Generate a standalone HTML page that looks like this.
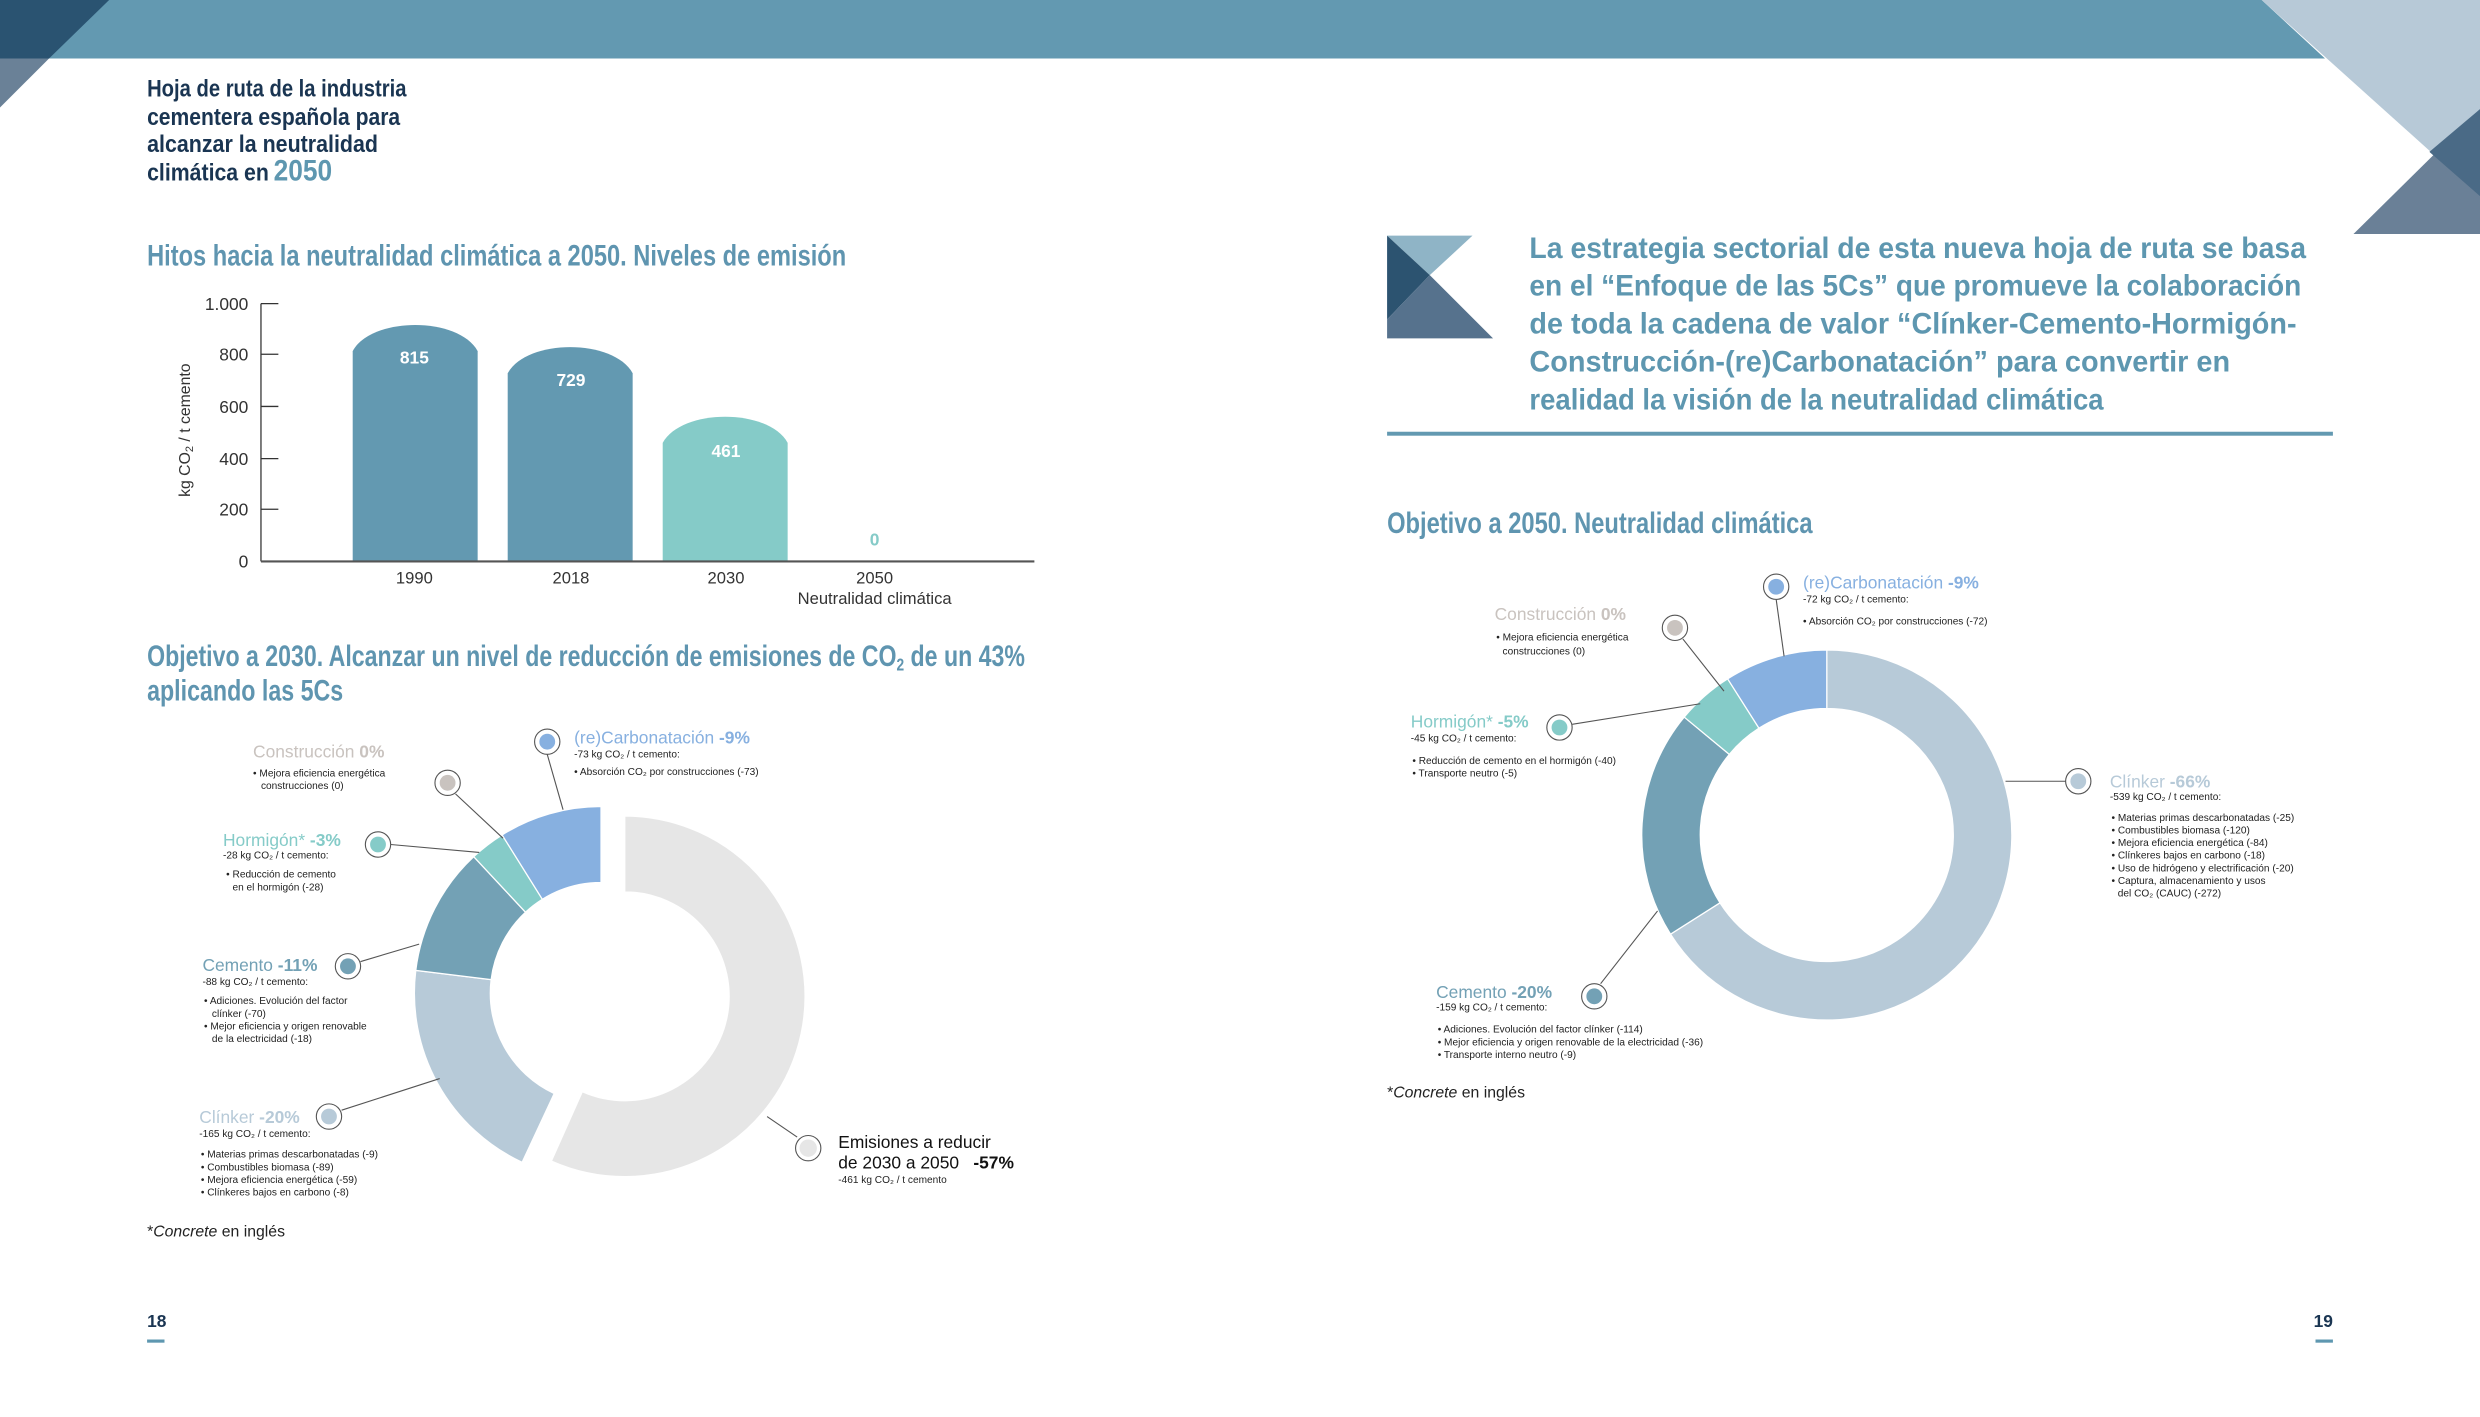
<!DOCTYPE html>
<html><head><meta charset="utf-8">
<style>
html,body{margin:0;padding:0;background:#fff;}
svg{display:block;}
.h{font-family:"Liberation Sans Narrow","Liberation Sans",sans-serif;font-weight:bold;}
.t{font-family:"Liberation Sans Narrow","Liberation Sans",sans-serif;}
.s{font-family:"Liberation Sans Narrow","Liberation Sans",sans-serif;font-size:6.4px;fill:#222;}
</style></head>
<body>
<svg width="2480" height="1417" viewBox="0 0 1568 896" preserveAspectRatio="none" xmlns="http://www.w3.org/2000/svg">
<rect width="1568" height="896" fill="#fff"/>
<!-- top band -->
<polygon points="0,0 1430,0 1470,37 0,37" fill="#6399b1"/>
<polygon points="0,0 69,0 31,37 0,37" fill="#2a5371"/>
<polygon points="0,37 31,37 0,68" fill="#6a8197"/>
<polygon points="1430,0 1568,0 1568,124" fill="#b7c9d7"/>
<polygon points="1488,148 1568,69 1568,148" fill="#6a8097"/>
<polygon points="1568,69 1568,124 1536,96" fill="#4a6a86"/>

<!-- left title -->
<g class="h" fill="#1a3552" font-size="15">
<text x="93" y="61" textLength="164" lengthAdjust="spacingAndGlyphs">Hoja de ruta de la industria</text>
<text x="93" y="79" textLength="160" lengthAdjust="spacingAndGlyphs">cementera española para</text>
<text x="93" y="96" textLength="146" lengthAdjust="spacingAndGlyphs">alcanzar la neutralidad</text>
<text x="93" y="114" textLength="77" lengthAdjust="spacingAndGlyphs">climática en</text>
<text x="173" y="114" font-size="19" fill="#5e97b0" textLength="37" lengthAdjust="spacingAndGlyphs">2050</text>
</g>

<text class="h" x="93" y="168" font-size="18.5" fill="#5f95b0" textLength="442" lengthAdjust="spacingAndGlyphs">Hitos hacia la neutralidad climática a 2050. Niveles de emisión</text>

<!-- bar chart -->
<g class="t" font-size="11" fill="#333" text-anchor="end">
<text x="157" y="196">1.000</text><text x="157" y="228">800</text><text x="157" y="261">600</text>
<text x="157" y="294">400</text><text x="157" y="326">200</text><text x="157" y="359">0</text>
</g>
<g stroke="#333" stroke-width="0.8">
<line x1="165" y1="192" x2="165" y2="355"/>
<line x1="165" y1="192" x2="176" y2="192"/><line x1="165" y1="224" x2="176" y2="224"/>
<line x1="165" y1="257" x2="176" y2="257"/><line x1="165" y1="290" x2="176" y2="290"/>
<line x1="165" y1="322" x2="176" y2="322"/>
</g>
<path d="M223,355 V222 C235,200 290,200 302,222 V355Z" fill="#6399b1"/>
<path d="M321,355 V236 C333,214 388,214 400,236 V355Z" fill="#6399b1"/>
<path d="M419,355 V280 C431,258 486,258 498,280 V355Z" fill="#85cbc8"/>
<line x1="165" y1="355" x2="654" y2="355" stroke="#555" stroke-width="1.4"/>
<g class="h" font-size="11" fill="#fff" text-anchor="middle">
<text x="262" y="230">815</text><text x="361" y="244">729</text><text x="459" y="289">461</text>
</g>
<text class="h" x="553" y="345" font-size="11" fill="#85cbc8" text-anchor="middle">0</text>
<g class="t" font-size="10.5" fill="#333" text-anchor="middle">
<text x="262" y="369">1990</text><text x="361" y="369">2018</text><text x="459" y="369">2030</text><text x="553" y="369">2050</text>
<text x="553" y="382">Neutralidad climática</text>
</g>
<text x="120" y="272" transform="rotate(-90 120 272)" font-family="Liberation Sans, sans-serif" font-size="10" fill="#333" text-anchor="middle">kg CO<tspan font-size="7" dy="2">2</tspan><tspan dy="-2"> / t cemento</tspan></text>

<!-- heading 2 -->
<g class="h" font-size="18.5" fill="#5f95b0">
<text x="93" y="421" textLength="555" lengthAdjust="spacingAndGlyphs">Objetivo a 2030. Alcanzar un nivel de reducción de emisiones de CO<tspan font-size="11" dy="3">2</tspan><tspan dy="-3"> de un 43%</tspan></text>
<text x="93" y="443" textLength="124" lengthAdjust="spacingAndGlyphs">aplicando las 5Cs</text>
</g>

<!-- donut 1 -->
<g id="d1"></g>
<!-- donut 2 -->
<g id="d2"></g>

<!-- leader lines -->
<g stroke="#555" stroke-width="0.7" fill="none">
<line x1="346" y1="477" x2="356" y2="512"/>
<line x1="288" y1="502" x2="318" y2="530"/>
<line x1="247" y1="534" x2="303" y2="539"/>
<line x1="228" y1="608" x2="265" y2="597"/>
<line x1="216" y1="702" x2="278" y2="682"/>
<line x1="504" y1="719" x2="485" y2="706"/>
<line x1="1123" y1="379" x2="1128" y2="415"/>
<line x1="1064" y1="404" x2="1090" y2="437"/>
<line x1="994" y1="458" x2="1075" y2="445"/>
<line x1="1306" y1="494" x2="1268" y2="494"/>
<line x1="1012" y1="622" x2="1048" y2="576"/>
</g>
<!-- markers -->
<g stroke="#555" stroke-width="0.7" fill="#fff">
<circle cx="346" cy="469" r="8"/><circle cx="283" cy="495" r="8"/><circle cx="239" cy="534" r="8"/>
<circle cx="220" cy="611" r="8"/><circle cx="208" cy="706" r="8"/><circle cx="511" cy="726" r="8"/>
<circle cx="1123" cy="371" r="8"/><circle cx="1059" cy="397" r="8"/><circle cx="986" cy="460" r="8"/>
<circle cx="1314" cy="494" r="8"/><circle cx="1008" cy="630" r="8"/>
</g>
<g>
<circle cx="346" cy="469" r="5" fill="#87b0e0"/><circle cx="283" cy="495" r="5" fill="#c9c3bf"/>
<circle cx="239" cy="534" r="5" fill="#85cbc8"/><circle cx="220" cy="611" r="5" fill="#73a1b5"/>
<circle cx="208" cy="706" r="5" fill="#b7cad8"/><circle cx="511" cy="726" r="5.5" fill="#e6e6e6"/>
<circle cx="1123" cy="371" r="5" fill="#87b0e0"/><circle cx="1059" cy="397" r="5" fill="#c9c3bf"/>
<circle cx="986" cy="460" r="5" fill="#85cbc8"/><circle cx="1314" cy="494" r="5" fill="#b7cad8"/>
<circle cx="1008" cy="630" r="5" fill="#73a1b5"/>
</g>

<!-- labels donut 1 -->
<g class="t" font-size="11">
<text x="363" y="470" fill="#87b0e0">(re)Carbonatación <tspan font-weight="bold">-9%</tspan></text>
<text x="160" y="479" fill="#c9c3bf">Construcción <tspan font-weight="bold">0%</tspan></text>
<text x="141" y="535" fill="#85cbc8">Hormigón* <tspan font-weight="bold">-3%</tspan></text>
<text x="128" y="614" fill="#73a1b5">Cemento <tspan font-weight="bold">-11%</tspan></text>
<text x="126" y="710" fill="#b7cad8">Clínker <tspan font-weight="bold">-20%</tspan></text>
<text x="530" y="726" fill="#111">Emisiones a reducir</text>
<text x="530" y="739" fill="#111">de 2030 a 2050 <tspan font-weight="bold" dx="6">-57%</tspan></text>
</g>
<g class="s">
<text x="363" y="479">-73 kg CO₂ / t cemento:</text>
<text x="363" y="490">• Absorción CO₂ por construcciones (-73)</text>
<text x="160" y="491">• Mejora eficiencia energética</text>
<text x="165" y="499">construcciones (0)</text>
<text x="141" y="543">-28 kg CO₂ / t cemento:</text>
<text x="143" y="555">• Reducción de cemento</text>
<text x="147" y="563">en el hormigón (-28)</text>
<text x="128" y="623">-88 kg CO₂ / t cemento:</text>
<text x="129" y="635">• Adiciones. Evolución del factor</text>
<text x="134" y="643">clínker (-70)</text>
<text x="129" y="651">• Mejor eficiencia y origen renovable</text>
<text x="134" y="659">de la electricidad (-18)</text>
<text x="126" y="719">-165 kg CO₂ / t cemento:</text>
<text x="127" y="732">• Materias primas descarbonatadas (-9)</text>
<text x="127" y="740">• Combustibles biomasa (-89)</text>
<text x="127" y="748">• Mejora eficiencia energética (-59)</text>
<text x="127" y="756">• Clínkeres bajos en carbono (-8)</text>
<text x="530" y="748">-461 kg CO₂ / t cemento</text>
</g>
<text class="t" x="93" y="782" font-size="10" fill="#222">*<tspan font-style="italic">Concrete</tspan> en inglés</text>

<!-- right page: logo -->
<polygon points="877,149 931,149 904,174" fill="#8fb4c6"/>
<polygon points="877,149 904,174 877,202" fill="#2c5370"/>
<polygon points="877,202 904,174 944,214 877,214" fill="#56728d"/>
<g class="h" font-size="19" fill="#5e97b0">
<text x="967" y="163" textLength="491" lengthAdjust="spacingAndGlyphs">La estrategia sectorial de esta nueva hoja de ruta se basa</text>
<text x="967" y="187" textLength="488" lengthAdjust="spacingAndGlyphs">en el “Enfoque de las 5Cs” que promueve la colaboración</text>
<text x="967" y="211" textLength="485" lengthAdjust="spacingAndGlyphs">de toda la cadena de valor “Clínker-Cemento-Hormigón-</text>
<text x="967" y="235" textLength="443" lengthAdjust="spacingAndGlyphs">Construcción-(re)Carbonatación” para convertir en</text>
<text x="967" y="259" textLength="363" lengthAdjust="spacingAndGlyphs">realidad la visión de la neutralidad climática</text>
</g>
<rect x="877" y="273" width="598" height="2.5" fill="#6399b1"/>
<text class="h" x="877" y="337" font-size="18.5" fill="#5f95b0" textLength="269" lengthAdjust="spacingAndGlyphs">Objetivo a 2050. Neutralidad climática</text>

<g class="t" font-size="11">
<text x="1140" y="372" fill="#87b0e0">(re)Carbonatación <tspan font-weight="bold">-9%</tspan></text>
<text x="945" y="392" fill="#c9c3bf">Construcción <tspan font-weight="bold">0%</tspan></text>
<text x="892" y="460" fill="#85cbc8">Hormigón* <tspan font-weight="bold">-5%</tspan></text>
<text x="1334" y="498" fill="#b7cad8">Clínker <tspan font-weight="bold">-66%</tspan></text>
<text x="908" y="631" fill="#73a1b5">Cemento <tspan font-weight="bold">-20%</tspan></text>
</g>
<g class="s">
<text x="1140" y="381">-72 kg CO₂ / t cemento:</text>
<text x="1140" y="395">• Absorción CO₂ por construcciones (-72)</text>
<text x="946" y="405">• Mejora eficiencia energética</text>
<text x="950" y="414">construcciones (0)</text>
<text x="892" y="469">-45 kg CO₂ / t cemento:</text>
<text x="893" y="483">• Reducción de cemento en el hormigón (-40)</text>
<text x="893" y="491">• Transporte neutro (-5)</text>
<text x="1334" y="506">-539 kg CO₂ / t cemento:</text>
<text x="1335" y="519">• Materias primas descarbonatadas (-25)</text>
<text x="1335" y="527">• Combustibles biomasa (-120)</text>
<text x="1335" y="535">• Mejora eficiencia energética (-84)</text>
<text x="1335" y="543">• Clínkeres bajos en carbono (-18)</text>
<text x="1335" y="551">• Uso de hidrógeno y electrificación (-20)</text>
<text x="1335" y="559">• Captura, almacenamiento y usos</text>
<text x="1339" y="567">del CO₂ (CAUC) (-272)</text>
<text x="908" y="639">-159 kg CO₂ / t cemento:</text>
<text x="909" y="653">• Adiciones. Evolución del factor clínker (-114)</text>
<text x="909" y="661">• Mejor eficiencia y origen renovable de la electricidad (-36)</text>
<text x="909" y="669">• Transporte interno neutro (-9)</text>
</g>
<text class="t" x="877" y="694" font-size="10" fill="#222">*<tspan font-style="italic">Concrete</tspan> en inglés</text>

<!-- page numbers -->
<text class="h" x="93" y="839" font-size="11" fill="#1a3552">18</text>
<rect x="93" y="847" width="11" height="2" fill="#5e97b0"/>
<text class="h" x="1475" y="839" font-size="11" fill="#1a3552" text-anchor="end">19</text>
<rect x="1464" y="847" width="11" height="2" fill="#5e97b0"/>
</svg>
<script>
function seg(cx,cy,R,r,a0,a1){
 function p(rad,a){var t=(a-90)*Math.PI/180;return [cx+rad*Math.cos(t),cy+rad*Math.sin(t)];}
 var l=(a1-a0)>180?1:0;var A=p(R,a0),B=p(R,a1),C=p(r,a1),D=p(r,a0);
 return "M"+A+" A"+R+","+R+" 0 "+l+" 1 "+B+" L"+C+" A"+r+","+r+" 0 "+l+" 0 "+D+"Z";
}
function add(g,d,f){var e=document.createElementNS("http://www.w3.org/2000/svg","path");e.setAttribute("d",d);e.setAttribute("fill",f);e.setAttribute("stroke","#fff");e.setAttribute("stroke-width","0.8");document.getElementById(g).appendChild(e);}
add("d1",seg(395,630,114,66,0,204),"#e6e6e6");
add("d1",seg(380,628,118,70,205,277),"#b7cad8");
add("d1",seg(380,628,118,70,277,317),"#73a1b5");
add("d1",seg(380,628,118,70,317,328),"#85cbc8");
add("d1",seg(380,628,118,70,328,360),"#87b0e0");
add("d2",seg(1155,528,117,80,0,237.6),"#b7cad8");
add("d2",seg(1155,528,117,80,237.6,309.6),"#73a1b5");
add("d2",seg(1155,528,117,80,309.6,327.6),"#85cbc8");
add("d2",seg(1155,528,117,80,327.6,360),"#87b0e0");
</script>
</body></html>
